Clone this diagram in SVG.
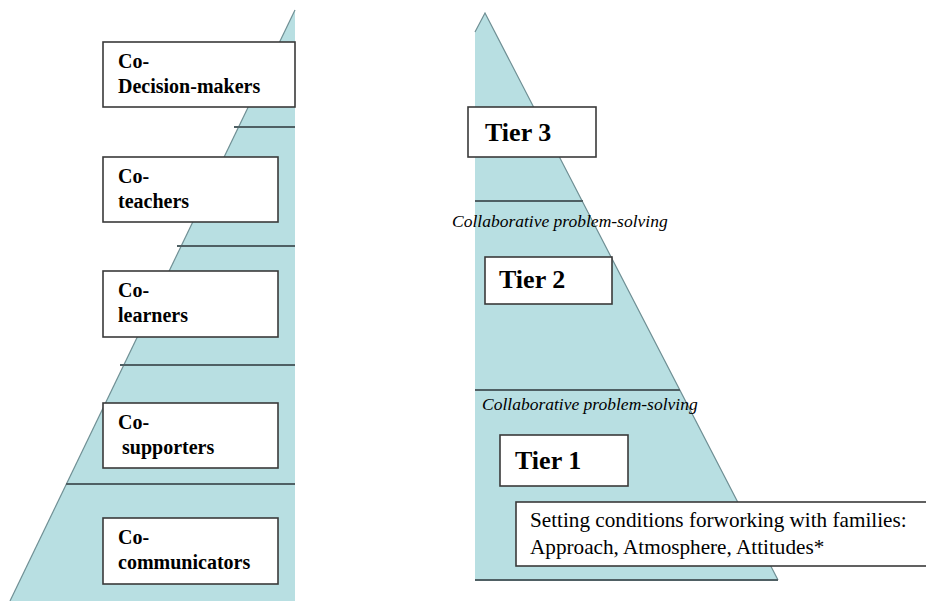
<svg xmlns="http://www.w3.org/2000/svg" width="926" height="601" viewBox="0 0 926 601">
<style>
.fill{fill:#b8dfe2}
.edge{fill:none;stroke:#6f8f94;stroke-width:1.2}
.band{stroke:#4f6064;stroke-width:2}
.box{fill:#fff;stroke:#3a3a3a;stroke-width:1.6}
.lbl{font-family:"Liberation Serif","Times New Roman",serif;font-weight:bold;font-size:20px;fill:#000}
.tier{font-family:"Liberation Serif","Times New Roman",serif;font-weight:bold;font-size:26px;fill:#000}
.ital{font-family:"Liberation Serif","Times New Roman",serif;font-style:italic;font-size:17.5px;fill:#000}
.note{font-family:"Liberation Serif","Times New Roman",serif;font-size:21.2px;fill:#000}
</style>
<rect width="926" height="601" fill="#fff"/>
<g id="left-pyramid">
<polygon class="fill" points="295,10 295,601 10,601"/>
<line class="edge" x1="295" y1="10" x2="10" y2="601"/>
<line class="band" x1="234" y1="127" x2="295" y2="127"/>
<line class="band" x1="177" y1="246" x2="295" y2="246"/>
<line class="band" x1="120" y1="365" x2="295" y2="365"/>
<line class="band" x1="66" y1="484" x2="295" y2="484"/>
</g>
<g id="right-pyramid">
<polygon class="fill" points="485,13 778,580 475,580 475,32"/>
<polyline class="edge" points="475,32 485,13 778,580"/>
<line class="band" x1="475" y1="580" x2="778" y2="580"/>
<line class="band" x1="475" y1="201" x2="583" y2="201"/>
<line class="band" x1="475" y1="390" x2="680" y2="390"/>
</g>
<g id="co-decision-makers">
<rect class="box" x="103" y="42" width="192" height="65"/>
<text class="lbl" x="118" y="68">Co-</text>
<text class="lbl" x="118" y="93">Decision-makers</text>
</g>
<g id="co-teachers">
<rect class="box" x="103" y="157" width="175" height="65"/>
<text class="lbl" x="118" y="183">Co-</text>
<text class="lbl" x="118" y="208">teachers</text>
</g>
<g id="co-learners">
<rect class="box" x="103" y="271" width="175" height="66"/>
<text class="lbl" x="118" y="297">Co-</text>
<text class="lbl" x="118" y="322">learners</text>
</g>
<g id="co-supporters">
<rect class="box" x="103" y="403" width="175" height="65"/>
<text class="lbl" x="118" y="429">Co-</text>
<text class="lbl" x="122" y="454">supporters</text>
</g>
<g id="co-communicators">
<rect class="box" x="103" y="518" width="175" height="66"/>
<text class="lbl" x="118" y="544">Co-</text>
<text class="lbl" x="118" y="569">communicators</text>
</g>
<g id="tier3">
<rect class="box" x="468" y="107" width="128" height="50"/>
<text class="tier" x="485" y="141">Tier 3</text>
</g>
<g id="label-cps-1">
<text class="ital" x="452" y="227">Collaborative problem-solving</text>
</g>
<g id="tier2">
<rect class="box" x="485" y="257" width="127" height="47"/>
<text class="tier" x="499" y="288">Tier 2</text>
</g>
<g id="label-cps-2">
<text class="ital" x="482" y="410">Collaborative problem-solving</text>
</g>
<g id="tier1">
<rect class="box" x="500" y="435" width="128" height="51"/>
<text class="tier" x="515" y="469">Tier 1</text>
</g>
<g id="setting-conditions">
<rect class="box" x="516" y="502" width="420" height="64"/>
<text class="note" x="530" y="527">Setting conditions forworking with families:</text>
<text class="note" x="530" y="554">Approach, Atmosphere, Attitudes*</text>
</g>
<g id="connectors"></g>
</svg>
